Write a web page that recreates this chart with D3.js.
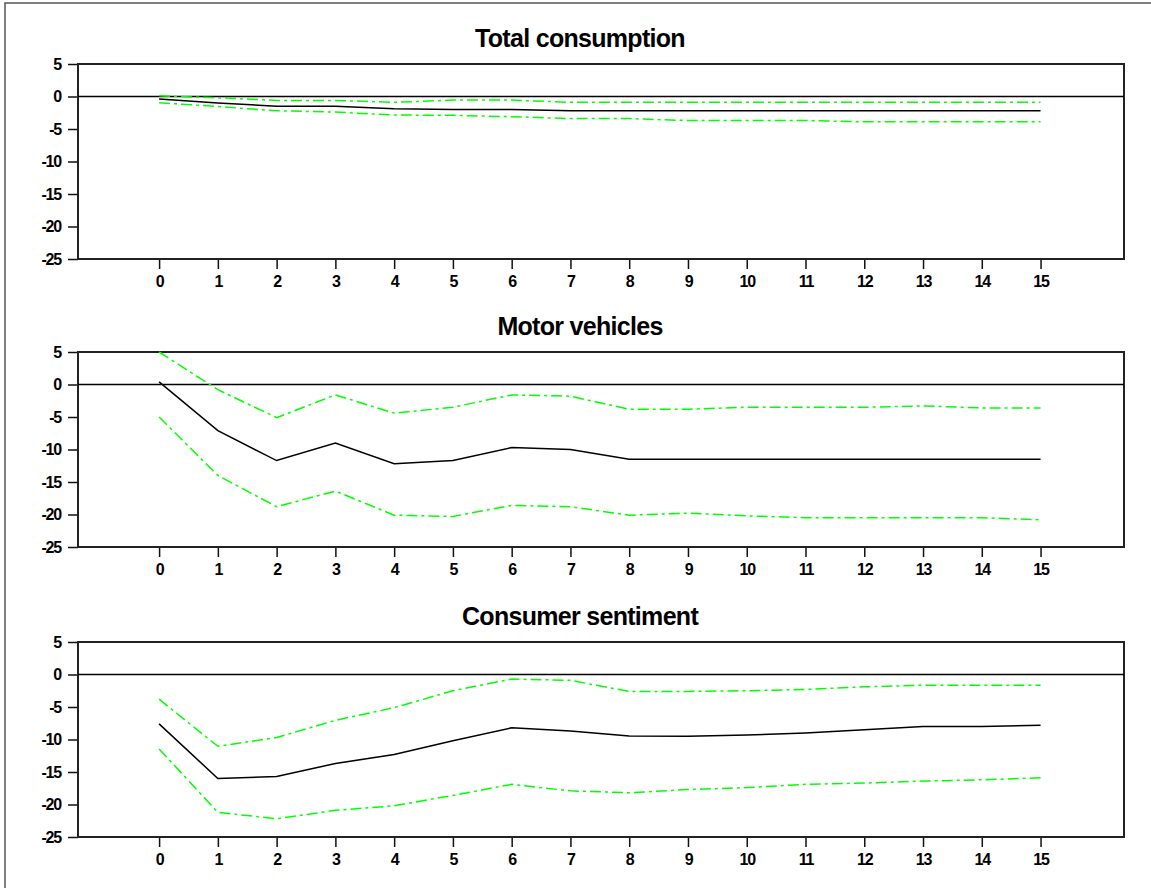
<!DOCTYPE html>
<html>
<head>
<meta charset="utf-8">
<script src="https://cdn.jsdelivr.net/npm/d3@7"></script>
<style>
  body { margin: 0; background: #fff; }
  text { font-family: "Liberation Sans", Arial, sans-serif; font-weight: bold; }
</style>
</head>
<body>
<div id="chart"></div>
<script>
// horizons and tick labels
var steps = d3.range(0, 16);
var yTicks = [5, 0, -5, -10, -15, -20, -25];
var titles = ["Total consumption", "Motor vehicles", "Consumer sentiment"];

// Total consumption
var consMid   = [-0.4, -1.0, -1.5, -1.5, -1.9, -2.0, -2.0, -2.2, -2.2, -2.2, -2.2, -2.2, -2.2, -2.2, -2.2, -2.2];
var consUpper = [0.1, -0.2, -0.6, -0.6, -0.9, -0.55, -0.55, -0.9, -0.9, -0.9, -0.9, -0.9, -0.9, -0.9, -0.9, -0.9];
var consLower = [-0.95, -1.55, -2.2, -2.4, -2.85, -2.9, -3.1, -3.4, -3.4, -3.7, -3.7, -3.7, -3.9, -3.9, -3.9, -3.9];

// Motor vehicles
var motorMid   = [0.4, -7.1, -11.7, -9.0, -12.2, -11.7, -9.7, -10.0, -11.5, -11.5, -11.5, -11.5, -11.5, -11.5, -11.5, -11.5];
var motorUpper = [5.0, -0.8, -5.1, -1.6, -4.4, -3.5, -1.6, -1.8, -3.8, -3.8, -3.5, -3.5, -3.5, -3.3, -3.6, -3.6];
var motorLower = [-5.0, -14.0, -18.8, -16.4, -20.1, -20.3, -18.6, -18.8, -20.1, -19.8, -20.2, -20.5, -20.5, -20.5, -20.5, -20.8];

// Consumer sentiment
var sentMid   = [-7.6, -16.0, -15.7, -13.7, -12.3, -10.2, -8.2, -8.7, -9.45, -9.5, -9.3, -9.0, -8.5, -8.0, -8.0, -7.8];
var sentUpper = [-3.8, -11.05, -9.7, -7.05, -5.1, -2.5, -0.7, -0.9, -2.6, -2.6, -2.5, -2.3, -1.9, -1.65, -1.65, -1.65];
var sentLower = [-11.45, -21.2, -22.2, -20.9, -20.2, -18.6, -16.9, -17.9, -18.2, -17.7, -17.4, -16.9, -16.7, -16.4, -16.2, -15.9];

var panels = [
  { title: titles[0], mid: consMid,  upper: consUpper,  lower: consLower,  top: 64 },
  { title: titles[1], mid: motorMid, upper: motorUpper, lower: motorLower, top: 352 },
  { title: titles[2], mid: sentMid,  upper: sentUpper,  lower: sentLower,  top: 642 }
];

var width = 1151, height = 888;
var left = 78, right = 1124, plotH = 195;

var svg = d3.select("#chart").append("svg")
  .attr("width", width)
  .attr("height", height);

// outer frame
svg.append("rect")
  .attr("x", 5).attr("y", 3)
  .attr("width", 1160).attr("height", 900)
  .attr("fill", "none")
  .attr("stroke", "#555")
  .attr("stroke-width", 1.5);

var x = d3.scaleLinear().domain([-1.38, 16.42]).range([left, right]);
var plain = function(d) { return String(d); };  // hyphen minus, like the original

panels.forEach(function(p) {
  var y = d3.scaleLinear().domain([-25, 5]).range([p.top + plotH, p.top]);
  var g = svg.append("g");

  // title
  g.append("text")
    .attr("x", 580)
    .attr("y", p.top - 17)
    .attr("text-anchor", "middle")
    .style("font-size", "25px")
    .style("letter-spacing", "-0.7px")
    .text(p.title);

  // y axis
  var yAxis = d3.axisLeft(y).tickValues(yTicks).tickFormat(plain).tickSize(10).tickSizeOuter(0).tickPadding(7);
  var ya = g.append("g").attr("transform", "translate(" + left + ",0)").call(yAxis);
  ya.select(".domain").remove();
  ya.selectAll(".tick line").attr("stroke", "#111").attr("stroke-width", 1.5);
  ya.selectAll(".tick text")
    .style("font-size", "16px")
    .style("letter-spacing", "-1.2px")
    .attr("fill", "#000");

  // x axis
  var xAxis = d3.axisBottom(x).tickValues(steps).tickFormat(plain).tickSize(10).tickSizeOuter(0).tickPadding(7);
  var xa = g.append("g").attr("transform", "translate(0," + (p.top + plotH) + ")").call(xAxis);
  xa.select(".domain").remove();
  xa.selectAll(".tick line").attr("stroke", "#111").attr("stroke-width", 1.5);
  xa.selectAll(".tick text")
    .style("font-size", "16px")
    .style("letter-spacing", "-1.2px")
    .attr("fill", "#000");

  // plot box
  g.append("rect")
    .attr("x", left).attr("y", p.top)
    .attr("width", right - left).attr("height", plotH)
    .attr("fill", "none")
    .attr("stroke", "#222")
    .attr("stroke-width", 2);

  // zero line
  g.append("line")
    .attr("x1", left).attr("x2", right)
    .attr("y1", y(0)).attr("y2", y(0))
    .attr("stroke", "#000")
    .attr("stroke-width", 1.5);

  var line = d3.line()
    .x(function(d, i) { return x(steps[i]); })
    .y(function(d) { return y(d); });

  // error bands
  [p.upper, p.lower].forEach(function(band) {
    g.append("path")
      .datum(band)
      .attr("d", line)
      .attr("fill", "none")
      .attr("stroke", "#00ff00")
      .attr("stroke-width", 1.5)
      .attr("stroke-dasharray", "11,4,3,4");
  });

  // response
  g.append("path")
    .datum(p.mid)
    .attr("d", line)
    .attr("fill", "none")
    .attr("stroke", "#000")
    .attr("stroke-width", 1.5);
});
</script>
</body>
</html>
